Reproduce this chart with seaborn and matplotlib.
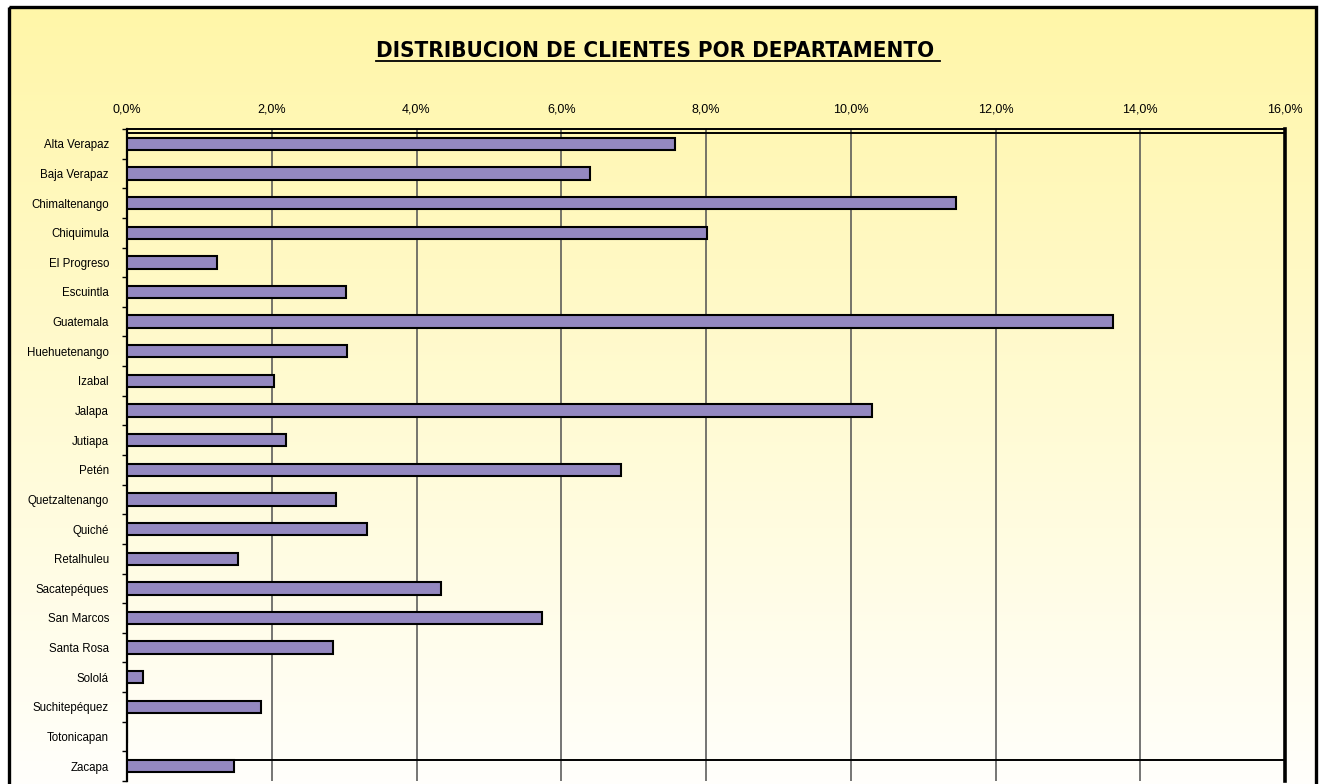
import numpy as np
import matplotlib
matplotlib.use("Agg")
import matplotlib.pyplot as plt
from matplotlib.patches import Rectangle
from matplotlib.lines import Line2D
from matplotlib.ticker import FuncFormatter, FixedLocator
import seaborn as sns
import pandas as pd

# ---- data ----
departamentos = ["Alta Verapaz", "Baja Verapaz", "Chimaltenango", "Chiquimula",
                 "El Progreso", "Escuintla", "Guatemala", "Huehuetenango", "Izabal",
                 "Jalapa", "Jutiapa", "Petén", "Quetzaltenango", "Quiché",
                 "Retalhuleu", "Sacatepéques", "San Marcos", "Santa Rosa", "Sololá",
                 "Suchitepéquez", "Totonicapan", "Zacapa"]
porcentajes = [7.57, 6.40, 11.45, 8.02, 1.24, 3.03, 13.62, 3.04, 2.03, 10.30,
               2.19, 6.83, 2.89, 3.31, 1.54, 4.34, 5.73, 2.84, 0.22, 1.85, 0.0, 1.48]
x_ticks = [0, 2, 4, 6, 8, 10, 12, 14, 16]
titulo = "DISTRIBUCION DE CLIENTES POR DEPARTAMENTO"

df = pd.DataFrame({"dep": departamentos, "pct": porcentajes})

W, H = 1319, 784
fig = plt.figure(figsize=(W / 100, H / 100), dpi=100)
fig.patch.set_facecolor("white")

# ---- background gradient with border ----
bg = fig.add_axes([0, 0, 1, 1], zorder=-5)
bg.axis("off")
top_c = np.array([255, 246, 168]) / 255
bot_c = np.array([255, 255, 252]) / 255
t = np.linspace(0, 1, 256)[:, None]
grad = (top_c[None, :] * (1 - t) + bot_c[None, :] * t)[:, None, :]
bg.imshow(grad, extent=[9, 1316, 790, 7], aspect="auto", interpolation="bilinear")
bg.add_patch(Rectangle((9, 7), 1316 - 9, 800, fill=False, edgecolor="black", lw=2.4))
bg.set_xlim(0, W)
bg.set_ylim(H, 0)

# ---- main axes ----
x0, x1 = 127, 1285
ytop, ybot = 129, 781
ax = fig.add_axes([x0 / W, 1 - ybot / H, (x1 - x0) / W, (ybot - ytop) / H], zorder=2)
ax.set_facecolor("none")

sns.barplot(data=df, x="pct", y="dep", orient="h", color="#9488C0", saturation=1,
            edgecolor="black", linewidth=1.5, width=0.42, ax=ax, zorder=3)

n = len(departamentos)
ax.set_xlim(0, 16)
ax.set_ylim(n - 0.5, -0.5)
ax.set_xlabel("")
ax.set_ylabel("")

# gridlines
for v in x_ticks:
    ax.axvline(v, color="#505050", lw=1.1, zorder=1)
# Excel rendering artifact line at Zacapa bar top
ax.axhline(n - 1 - 0.21, color="black", lw=1.4, zorder=1)
# double line at top
ax.axhline(-0.5 + 0.13, color="black", lw=1.4, zorder=1)

ax.xaxis.tick_top()
ax.xaxis.set_major_locator(FixedLocator(x_ticks))
ax.xaxis.set_major_formatter(FuncFormatter(lambda v, p: f"{v:.1f}%".replace(".", ",")))
ax.tick_params(axis="x", length=0, pad=9.5, labelsize=9)
for lab in ax.get_xticklabels():
    lab.set_fontfamily("Liberation Sans")

ax.yaxis.set_minor_locator(FixedLocator(np.arange(-0.5, n, 1.0)))
ax.tick_params(axis="y", which="major", length=0, pad=13, labelsize=8.3)
ax.tick_params(axis="y", which="minor", length=3.5, width=1, direction="out", color="black")
for lab in ax.get_yticklabels():
    lab.set_fontfamily("Liberation Sans")

for s in ["left", "top", "right", "bottom"]:
    ax.spines[s].set_color("black")
ax.spines["left"].set_linewidth(1.6)
ax.spines["top"].set_linewidth(1.4)
ax.spines["right"].set_linewidth(2.6)
ax.spines["bottom"].set_visible(False)

# ---- title with underline ----
tt = fig.text(655 / W, 1 - 57 / H, titulo, ha="center", va="baseline",
              fontsize=16, fontweight="bold", family="DejaVu Sans", fontstretch="condensed")
fig.canvas.draw()
bb = tt.get_window_extent()
yline = 1 - 61 / H
fig.add_artist(Line2D([bb.x0 / W, (bb.x1 + 6) / W], [yline, yline],
                      transform=fig.transFigure, color="black", lw=1.3))

fig.savefig("out.png", dpi=100)
